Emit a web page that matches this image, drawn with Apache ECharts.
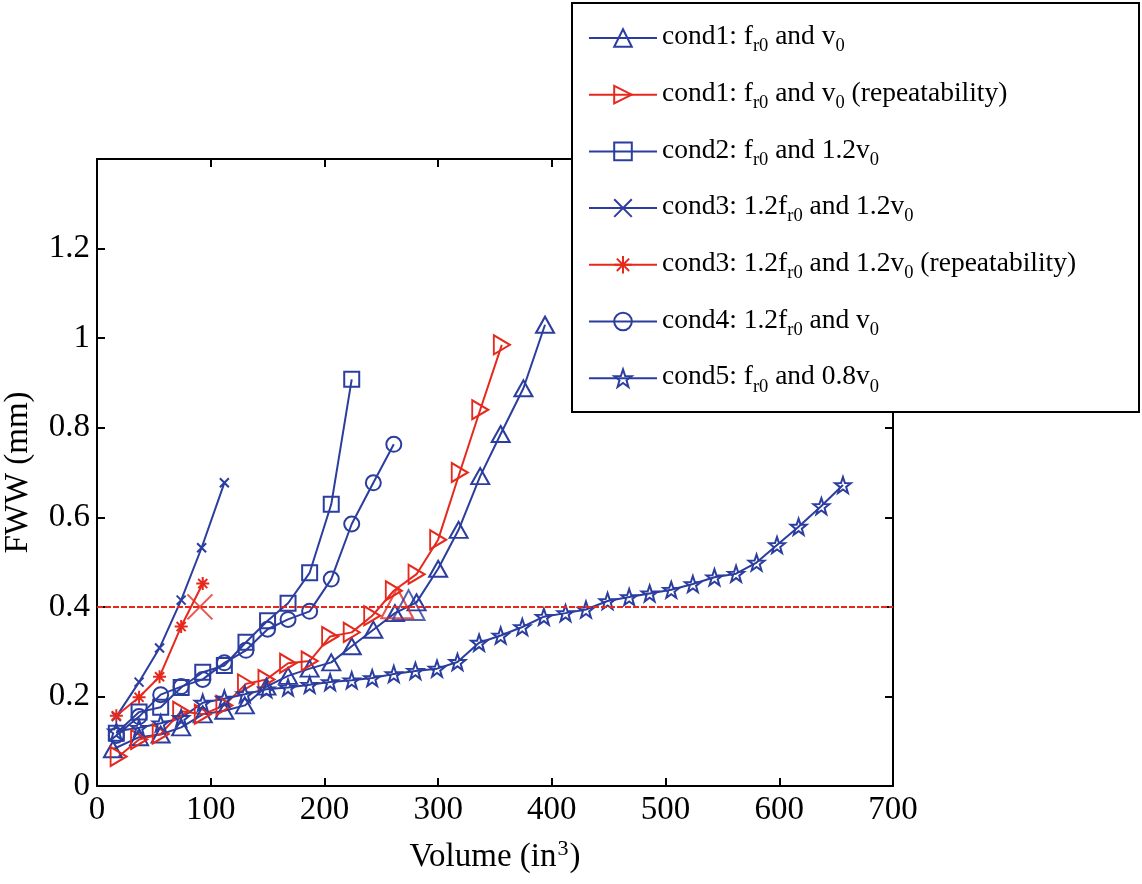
<!DOCTYPE html>
<html><head><meta charset="utf-8">
<script src="https://cdn.jsdelivr.net/npm/echarts@6/dist/echarts.min.js"></script>
<style>html,body{margin:0;padding:0;background:#fff}#c{width:1142px;height:884px}</style>
</head><body><div id="c"></div>
<script>
// ---- data ----
const seriesNames = [
  'cond1: fr0 and v0',
  'cond1: fr0 and v0 (repeatability)',
  'cond2: fr0 and 1.2v0',
  'cond3: 1.2fr0 and 1.2v0',
  'cond3: 1.2fr0 and 1.2v0 (repeatability)',
  'cond4: 1.2fr0 and v0',
  'cond5: fr0 and 0.8v0'
];
const legendLabels = [
  '{m|cond1: f}{s|r0}{m| and v}{s|0}',
  '{m|cond1: f}{s|r0}{m| and v}{s|0}{m| (repeatability)}',
  '{m|cond2: f}{s|r0}{m| and 1.2v}{s|0}',
  '{m|cond3: 1.2f}{s|r0}{m| and 1.2v}{s|0}',
  '{m|cond3: 1.2f}{s|r0}{m| and 1.2v}{s|0}{m| (repeatability)}',
  '{m|cond4: 1.2f}{s|r0}{m| and v}{s|0}',
  '{m|cond5: f}{s|r0}{m| and 0.8v}{s|0}'
];
const xAxisTitle = '{m|Volume (in}{sup|3}{m|)}';
const yAxisTitle = 'FWW (mm)';

const cond1X = [14, 37, 56, 74, 93, 112, 130, 149, 168, 187, 206, 224, 243, 262, 281, 300, 318, 337, 355, 375, 394];
const cond1Y = [0.082, 0.109, 0.115, 0.131, 0.160, 0.168, 0.180, 0.222, 0.246, 0.262, 0.276, 0.312, 0.349, 0.386, 0.410, 0.485, 0.572, 0.692, 0.786, 0.888, 1.030];

const cond1rX = [19, 37, 56, 74, 93, 112, 131, 149, 168, 187, 205, 224, 242, 261, 281, 300, 319, 337, 356];
const cond1rY = [0.066, 0.104, 0.116, 0.167, 0.160, 0.180, 0.228, 0.238, 0.274, 0.279, 0.334, 0.343, 0.380, 0.436, 0.473, 0.550, 0.700, 0.840, 0.985];

const cond2X = [17, 37, 56, 74, 93, 112, 131, 150, 168, 187, 206, 224];
const cond2Y = [0.118, 0.165, 0.176, 0.220, 0.254, 0.269, 0.321, 0.369, 0.408, 0.476, 0.629, 0.908];

const cond3X = [17, 37, 55, 74, 92, 112];
const cond3Y = [0.155, 0.232, 0.308, 0.415, 0.532, 0.677];

const cond3rX = [17, 37, 55, 74, 93];
const cond3rY = [0.157, 0.198, 0.244, 0.356, 0.452];

const cond4X = [17, 37, 56, 74, 93, 112, 131, 150, 168, 187, 206, 224, 243, 261];
const cond4Y = [0.113, 0.155, 0.204, 0.222, 0.238, 0.275, 0.303, 0.350, 0.372, 0.390, 0.462, 0.585, 0.677, 0.763];

const cond5X = [17, 37, 56, 74, 93, 112, 130, 149, 168, 187, 205, 224, 242, 261, 280, 299, 317, 336, 355, 374, 393, 412, 430, 449, 468, 486, 505, 524, 543, 562, 580, 598, 617, 637, 656];
const cond5Y = [0.122, 0.130, 0.140, 0.152, 0.186, 0.195, 0.205, 0.216, 0.220, 0.226, 0.232, 0.236, 0.241, 0.250, 0.257, 0.262, 0.277, 0.320, 0.336, 0.355, 0.378, 0.386, 0.394, 0.413, 0.422, 0.430, 0.438, 0.451, 0.466, 0.474, 0.499, 0.538, 0.579, 0.625, 0.672];

// large markers where curves reach the FWW limit
const crossX = [90.5, 264, 274];
const crossY = [0.400, 0.408, 0.404];

const thresholdY = 0.4;
const xTicks = {min: 0, max: 700, interval: 100};
const yTicks = {min: 0, max: 1.4, interval: 0.2};

// ---- styling ----
const BLUE = '#2b3d9e';
const RED = '#e6291d';
const FONT = 'Liberation Serif';
const STAR = 'path://M10,0L12.35,6.76L19.51,6.91L13.8,11.24L15.88,18.09L10,14L4.12,18.09L6.2,11.24L0.49,6.91L7.65,6.76Z';
const XMARK = 'path://M0,0L10,10M10,0L0,10';
const AST = 'path://M5,0L5,10M0,5L10,5M1.5,1.5L8.5,8.5M8.5,1.5L1.5,8.5';

function zip(xs, ys) { return xs.map((x, i) => [x, ys[i]]); }

function lineSeries(name, xs, ys, color, symbol, size, rotate) {
  return {
    name: name, type: 'line', data: zip(xs, ys),
    symbol: symbol, symbolSize: size, symbolRotate: rotate || 0,
    showAllSymbol: true,
    lineStyle: {color: color, width: 2},
    itemStyle: {color: 'rgba(255,255,255,0)', borderColor: color, borderWidth: 2},
    emphasis: {disabled: true}
  };
}

const series = [
  lineSeries(seriesNames[0], cond1X, cond1Y, BLUE, 'triangle', [18, 16]),
  lineSeries(seriesNames[1], cond1rX, cond1rY, RED, 'triangle', [19, 16], -90),
  lineSeries(seriesNames[2], cond2X, cond2Y, BLUE, 'rect', 15),
  lineSeries(seriesNames[3], cond3X, cond3Y, BLUE, XMARK, 9),
  lineSeries(seriesNames[4], cond3rX, cond3rY, RED, AST, 13),
  lineSeries(seriesNames[5], cond4X, cond4Y, BLUE, 'circle', 15),
  lineSeries(seriesNames[6], cond5X, cond5Y, BLUE, STAR, 16)
];
series[6].markLine = {
  silent: true, symbol: 'none', label: {show: false},
  lineStyle: {color: RED, width: 2, type: [6, 2]},
  data: [{yAxis: thresholdY}]
};
const crossStyles = [
  {symbol: XMARK, symbolSize: 25, itemStyle: {color: 'rgba(0,0,0,0)', borderColor: RED, borderWidth: 2}},
  {symbol: 'triangle', symbolSize: [32, 30], itemStyle: {color: 'rgba(0,0,0,0)', borderColor: RED, borderWidth: 2}},
  {symbol: 'triangle', symbolSize: [32, 30], itemStyle: {color: 'rgba(0,0,0,0)', borderColor: BLUE, borderWidth: 2}}
];
series.push({
  name: 'limit', type: 'scatter', z: 3,
  data: crossX.map((x, i) => Object.assign({value: [x, crossY[i]]}, crossStyles[i])),
  emphasis: {disabled: true}
});

const axisLine = {lineStyle: {color: '#000', width: 2}};
const tick = {inside: true, length: 8, lineStyle: {color: '#000', width: 2}};
const labelStyle = {fontFamily: FONT, fontSize: 33, color: '#000'};

const chart = echarts.init(document.getElementById('c'), null, {renderer: 'canvas'});
chart.setOption({
  animation: false,
  backgroundColor: '#fff',
  grid: {left: 97, right: 249, top: 159, bottom: 98, containLabel: false, outerBoundsMode: 'none'},
  xAxis: [
    Object.assign({type: 'value', position: 'bottom', axisLine: Object.assign({onZero: false}, axisLine), axisTick: tick,
      axisLabel: Object.assign({margin: 8}, labelStyle), splitLine: {show: false},
      name: xAxisTitle, nameLocation: 'middle', nameGap: 52,
      nameTextStyle: Object.assign({rich: {
        m: {fontFamily: FONT, fontSize: 33, color: '#000', verticalAlign: 'top', padding: [3, 0, 0, 0]},
        sup: {fontFamily: FONT, fontSize: 22, color: '#000', verticalAlign: 'top', padding: [0, 1, 0, 1]}
      }}, labelStyle)}, xTicks),
    Object.assign({type: 'value', position: 'top', axisLine: Object.assign({onZero: false}, axisLine), axisTick: tick,
      axisLabel: {show: false}, splitLine: {show: false}}, xTicks)
  ],
  yAxis: [
    Object.assign({type: 'value', position: 'left', axisLine: Object.assign({onZero: false}, axisLine), axisTick: tick,
      axisLabel: Object.assign({margin: 7, formatter: v => (v >= 1.39 ? '' : String(+v.toFixed(1)))}, labelStyle),
      splitLine: {show: false},
      name: yAxisTitle, nameLocation: 'middle', nameGap: 62, nameTextStyle: labelStyle}, yTicks),
    Object.assign({type: 'value', position: 'right', axisLine: Object.assign({onZero: false}, axisLine), axisTick: tick,
      axisLabel: {show: false}, splitLine: {show: false}}, yTicks)
  ],
  graphic: {elements: [{type: 'rect', z: 100, shape: {x: 572, y: 3, width: 567, height: 409},
    style: {fill: '#fff', stroke: '#000', lineWidth: 2}}]},
  legend: {
    z: 300, orient: 'vertical', left: 583, top: 18,
    data: seriesNames, itemWidth: 68, itemHeight: 22, itemGap: 23.7,
    inactiveColor: '#000', selectedMode: false,
    formatter: name => legendLabels[seriesNames.indexOf(name)],
    textStyle: {color: '#000', fontFamily: FONT, fontSize: 27.5,
      rich: {
        m: {fontFamily: FONT, fontSize: 27.5, color: '#000', verticalAlign: 'top', padding: [3, 0, 0, 0]},
        s: {fontFamily: FONT, fontSize: 18.5, color: '#000', verticalAlign: 'top', padding: [17, 0, 0, 0]}
      }}
  },
  series: series
});
</script></body></html>
